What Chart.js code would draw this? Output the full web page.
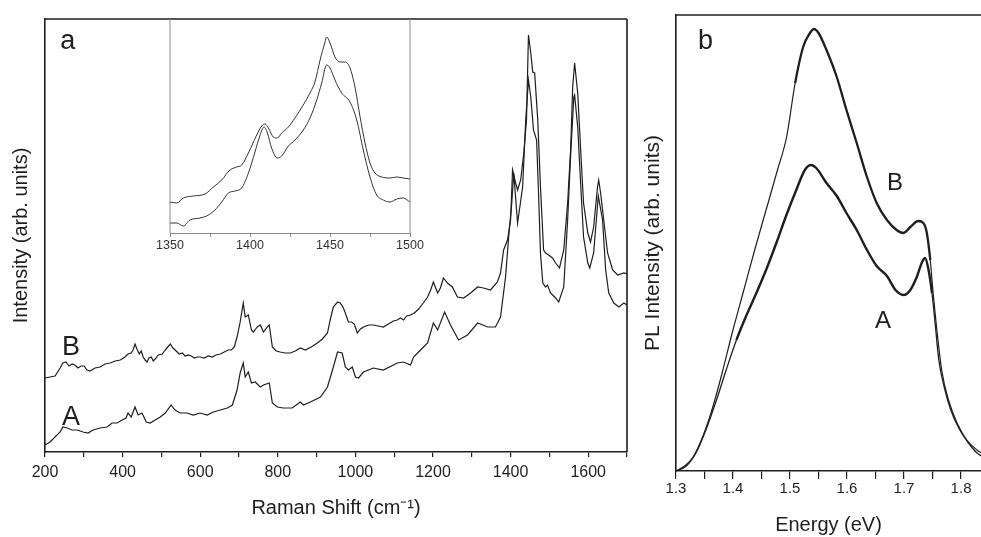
<!DOCTYPE html>
<html>
<head>
<meta charset="utf-8">
<script src="https://cdn.jsdelivr.net/npm/chart.js@4.4.1/dist/chart.umd.min.js"></script>
<style>
  html, body { margin: 0; padding: 0; background: #fff; }
  #wrap { position: relative; width: 981px; height: 537px; overflow: hidden; }
  canvas { position: absolute; }
  #ramanCanvas { left: 0; top: 0; }
  #insetCanvas { left: 150px; top: 0; }
  #plCanvas { left: 640px; top: 0; }
</style>
</head>
<body>
<div id="wrap">
  <canvas id="ramanCanvas" width="640" height="537"></canvas>
  <canvas id="insetCanvas" width="280" height="265"></canvas>
  <canvas id="plCanvas" width="341" height="537"></canvas>
</div>
<script>
// panel a - Raman spectra (cm-1 vs arb. units)
const shiftB = [200,213,226,239,246,254,262,270,277,285,293,301,308,316,329,342,355,368,381,394,406,414,422,427,432,437,443,448,453,458,463,468,474,479,484,492,502,512,523,530,538,546,554,561,569,577,585,592,600,610,621,631,641,652,662,672,680,688,695,703,711,716,724,732,737,747,755,763,773,778,786,796,806,819,832,845,858,871,886,902,915,928,935,943,954,961,969,974,982,990,997,1005,1013,1021,1034,1046,1059,1072,1085,1098,1108,1116,1124,1132,1142,1152,1163,1175,1186,1194,1201,1212,1219,1227,1237,1250,1263,1279,1297,1315,1330,1348,1366,1374,1382,1392,1400,1405,1413,1418,1426,1434,1441,1446,1452,1457,1462,1470,1477,1485,1490,1498,1508,1516,1526,1537,1547,1555,1560,1565,1573,1581,1588,1599,1606,1614,1624,1627,1632,1640,1650,1663,1676,1692,1700];
const ramanB = [74,75,76,84,89,90,86,88,87,84,86,86,82,81,84,85,88,89,91,92,95,98,99,102,108,103,98,101,95,92,90,94,95,91,93,97,98,103,108,104,101,98,99,96,97,96,94,95,95,94,96,95,97,98,100,102,102,105,115,130,149,135,137,122,120,125,127,120,125,127,105,101,100,99,99,101,104,102,105,109,113,119,132,145,150,149,144,139,130,130,128,119,123,125,127,127,126,125,128,131,132,134,132,136,137,139,143,149,155,162,170,159,164,174,169,165,155,154,159,165,164,162,170,179,202,212,232,282,269,262,272,299,332,417,399,380,379,332,265,202,199,197,194,189,184,202,249,305,365,389,359,299,249,219,210,225,265,272,259,232,199,182,177,179,178];

const shiftA = [200,213,239,246,257,270,283,298,311,324,342,360,373,386,399,409,414,422,432,440,450,461,471,484,497,510,525,535,548,566,582,600,618,634,652,670,683,695,703,711,716,724,732,742,755,763,778,786,799,814,837,858,866,884,910,928,941,954,966,974,982,992,1000,1008,1021,1046,1072,1108,1124,1142,1150,1168,1186,1201,1212,1230,1245,1266,1289,1315,1341,1361,1374,1387,1395,1403,1408,1418,1431,1439,1446,1452,1459,1467,1472,1477,1483,1490,1495,1503,1516,1524,1537,1547,1555,1563,1565,1573,1581,1588,1599,1604,1614,1626,1637,1645,1653,1666,1679,1692,1700];
const ramanA = [7,10,20,25,24,22,22,20,19,22,24,25,29,29,32,34,39,35,45,37,39,30,29,32,35,39,47,42,39,39,37,39,37,40,42,44,47,62,79,89,75,80,69,70,65,67,69,49,45,44,44,50,47,50,55,65,82,100,99,85,82,85,75,74,80,84,82,89,90,87,95,102,109,129,122,140,127,112,117,129,125,125,135,175,215,249,279,229,265,332,372,355,322,312,259,199,169,165,167,159,154,150,165,232,299,355,357,325,265,215,189,184,199,256,232,182,159,149,145,149,147];

// inset - 1350-1500 cm-1 region
const insetShiftB = [1350,1354.2,1358.3,1364.6,1371.9,1377.1,1382.3,1387.5,1391.7,1394.8,1399,1404.2,1407.3,1409.4,1411.5,1414.6,1417.1,1419.8,1424,1428.1,1433.3,1437.5,1440.6,1443.8,1446.9,1447.9,1450,1453.1,1456.3,1459.4,1462.5,1465.6,1468.8,1471.9,1475,1478.1,1482.3,1487.5,1491.7,1495.8,1500];
const insetB = [31,30,35,37,39,46,53,63,66,68,80,98,107,109,105,96,95,100,106,115,128,140,151,173,191,196,190,176,171,171,165,146,116,90,70,60,56,55,56,55,54];
const insetShiftA = [1350,1354.2,1358.3,1362.5,1368.8,1372.9,1378.1,1382.3,1386.5,1390.6,1394.8,1399,1403.1,1406.3,1408.8,1410.9,1413.5,1417.1,1419.8,1424,1428.1,1433.3,1437.5,1441.7,1444.8,1447.9,1450,1453.1,1457.3,1462.5,1466.7,1470.8,1475,1479.2,1483.3,1487.5,1491.7,1495.8,1500];
const insetA = [10,10,7,13,15,17,23,31,40,42,45,60,81,98,106,100,85,75,77,87,93,103,115,133,150,168,165,153,140,131,113,83,56,38,33,31,34,35,31];

// panel b - PL spectra (eV vs arb. units)
const energyB = [1.300,1.315,1.330,1.348,1.363,1.380,1.399,1.419,1.438,1.458,1.478,1.494,1.509,1.523,1.535,1.542,1.550,1.564,1.582,1.599,1.617,1.635,1.652,1.670,1.687,1.699,1.711,1.725,1.734,1.740,1.746,1.751,1.757,1.766,1.778,1.793,1.810,1.828,1.836];
const plB = [0,5,14,36,61,96,139,181,221,261,301,334,388,424,438,442,438,421,394,361,328,294,268,251,241,238,244,250,248,238,211,178,144,101,71,48,31,21,18];
const energyA = [1.300,1.318,1.335,1.353,1.371,1.388,1.406,1.423,1.441,1.458,1.476,1.493,1.511,1.526,1.537,1.546,1.564,1.582,1.599,1.617,1.635,1.652,1.670,1.685,1.699,1.711,1.723,1.731,1.737,1.743,1.749,1.755,1.761,1.770,1.782,1.796,1.813,1.828,1.836];
const plA = [0,5,18,42,71,101,131,155,178,201,228,255,281,301,306,303,288,275,258,241,221,205,195,181,176,181,195,208,213,201,178,145,111,85,61,43,28,18,15];

const FONT = '"Liberation Sans", Arial, Helvetica, sans-serif';
const INK = '#1e1e1e';

function pts(xs, ys) {
    return xs.map(function(x, i){ return {x: x, y: ys[i]}; });
}

// box round the plot area, chart.js only draws the axis sides
function frame(color, width, sides) {
    return {
        id: 'frame',
        afterDraw: function(chart) {
            const a = chart.chartArea;
            const ctx = chart.ctx;
            ctx.save();
            ctx.strokeStyle = color;
            ctx.lineWidth = width;
            ctx.beginPath();
            if (sides.indexOf('t') >= 0) { ctx.moveTo(a.left, a.top); ctx.lineTo(a.right, a.top); }
            if (sides.indexOf('r') >= 0) { ctx.moveTo(a.right, a.top); ctx.lineTo(a.right, a.bottom); }
            if (sides.indexOf('b') >= 0) { ctx.moveTo(a.left, a.bottom); ctx.lineTo(a.right, a.bottom); }
            if (sides.indexOf('l') >= 0) { ctx.moveTo(a.left, a.top); ctx.lineTo(a.left, a.bottom); }
            ctx.stroke();
            ctx.restore();
        }
    };
}

// panel letters and curve names, placed in data coordinates
function letters(items) {
    return {
        id: 'letters',
        afterDraw: function(chart) {
            const ctx = chart.ctx;
            const sx = chart.scales.x, sy = chart.scales.y;
            ctx.save();
            ctx.fillStyle = INK;
            ctx.textAlign = 'left';
            ctx.textBaseline = 'alphabetic';
            items.forEach(function(it){
                ctx.font = it.size + 'px ' + FONT;
                ctx.fillText(it.text, sx.getPixelForValue(it.x), sy.getPixelForValue(it.y));
            });
            ctx.restore();
        }
    };
}

// the PL traces are noisy (look thick) only over part of the range
function noisyBetween(lo, hi, thick, thin) {
    return function(ctx) {
        const x = ctx.p0.parsed.x;
        return (x >= lo && x <= hi) ? thick : thin;
    };
}

const common = {
    responsive: false,
    animation: false,
    plugins: { legend: { display: false }, tooltip: { enabled: false } },
    elements: { point: { radius: 0 }, line: { tension: 0, fill: false } }
};

// panel a
new Chart(document.getElementById('ramanCanvas'), {
    type: 'line',
    data: {
        datasets: [
            { label: 'B', data: pts(shiftB, ramanB), borderColor: INK, borderWidth: 1.2 },
            { label: 'A', data: pts(shiftA, ramanA), borderColor: INK, borderWidth: 1.2 }
        ]
    },
    options: Object.assign({}, common, {
        layout: { padding: { top: 19, right: 13, left: 0, bottom: 0 } },
        scales: {
            x: {
                type: 'linear', min: 200, max: 1700,
                afterFit: function(s){ s.height = 85; },
                ticks: {
                    stepSize: 100, padding: 6, color: INK, autoSkip: false, maxRotation: 0,
                    font: { family: FONT, size: 16 },
                    callback: function(v){ return v % 200 === 0 ? String(v) : ''; }
                },
                grid: { display: true, drawOnChartArea: false, drawTicks: true, tickLength: 5, color: INK, lineWidth: 1.2 },
                border: { display: true, color: INK, width: 1.6 },
                title: { display: true, text: 'Raman Shift (cm\u207B\u00B9)', color: INK, font: { family: FONT, size: 20 }, padding: { top: 0, bottom: 17 } }
            },
            y: {
                min: 0, max: 433,
                afterFit: function(s){ s.width = 45; },
                ticks: { display: false },
                grid: { display: false },
                border: { display: true, color: INK, width: 1.6 },
                title: { display: true, text: 'Intensity (arb. units)', color: INK, font: { family: FONT, size: 20 }, padding: { top: 9, bottom: 0 } }
            }
        }
    }),
    plugins: [
        frame(INK, 1.6, 'tr'),
        letters([
            { text: 'a', x: 239, y: 403, size: 27 },
            { text: 'B', x: 244, y: 97, size: 27 },
            { text: 'A', x: 244, y: 27, size: 27 }
        ])
    ]
});

// inset of panel a
new Chart(document.getElementById('insetCanvas'), {
    type: 'line',
    data: {
        datasets: [
            { label: 'B', data: pts(insetShiftB, insetB), borderColor: '#333', borderWidth: 1, cubicInterpolationMode: 'monotone' },
            { label: 'A', data: pts(insetShiftA, insetA), borderColor: '#333', borderWidth: 1, cubicInterpolationMode: 'monotone' }
        ]
    },
    options: Object.assign({}, common, {
        layout: { padding: { top: 19, right: 20, left: 20, bottom: 0 } },
        scales: {
            x: {
                type: 'linear', min: 1350, max: 1500,
                afterFit: function(s){ s.height = 32; },
                ticks: {
                    stepSize: 25, padding: 1.5, color: '#333', autoSkip: false, maxRotation: 0,
                    font: { family: FONT, size: 12.5 },
                    callback: function(v){ return v % 50 === 0 ? String(v) : ''; }
                },
                grid: { display: true, drawOnChartArea: false, drawTicks: true, tickLength: 4, color: '#888', lineWidth: 1 },
                border: { display: true, color: '#888', width: 1 }
            },
            y: { display: false, min: 0, max: 214 }
        }
    }),
    plugins: [frame('#888', 1, 'lr')]
});

// panel b
new Chart(document.getElementById('plCanvas'), {
    type: 'line',
    data: {
        datasets: [
            { label: 'B', data: pts(energyB, plB), borderColor: INK, borderWidth: 1.3,
              cubicInterpolationMode: 'monotone',
              segment: { borderWidth: noisyBetween(1.5, 1.745, 2.3, 1.2) } },
            { label: 'A', data: pts(energyA, plA), borderColor: INK, borderWidth: 2,
              cubicInterpolationMode: 'monotone',
              segment: { borderWidth: noisyBetween(1.4, 1.745, 2.4, 1.3) } }
        ]
    },
    options: Object.assign({}, common, {
        layout: { padding: { top: 15, right: 0, left: 0, bottom: 0 } },
        scales: {
            x: {
                type: 'linear', min: 1.3, max: 1.835,
                afterFit: function(s){ s.height = 66; },
                ticks: {
                    stepSize: 0.05, includeBounds: false, padding: 1, color: INK, autoSkip: false, maxRotation: 0,
                    font: { family: FONT, size: 15 },
                    callback: function(v){ return Math.round(v * 20) % 2 === 0 ? v.toFixed(1) : ''; }
                },
                grid: { display: true, drawOnChartArea: false, drawTicks: true, tickLength: 8, color: INK, lineWidth: 1.2 },
                border: { display: true, color: INK, width: 1.6 },
                title: { display: true, text: 'Energy (eV)', color: INK, font: { family: FONT, size: 20 }, padding: { top: 0, bottom: 0 } }
            },
            y: {
                min: 0, max: 456,
                afterFit: function(s){ s.width = 36; },
                ticks: { display: false },
                grid: { display: false },
                border: { display: true, color: INK, width: 1.6 },
                title: { display: true, text: 'PL Intensity (arb. units)', color: INK, font: { family: FONT, size: 21 }, padding: { top: 1, bottom: 0 } }
            }
        }
    }),
    plugins: [
        frame(INK, 1.6, 't'),
        letters([
            { text: 'b', x: 1.3386, y: 422, size: 27 },
            { text: 'B', x: 1.670, y: 281, size: 24 },
            { text: 'A', x: 1.649, y: 143, size: 24 }
        ])
    ]
});
</script>
</body>
</html>
